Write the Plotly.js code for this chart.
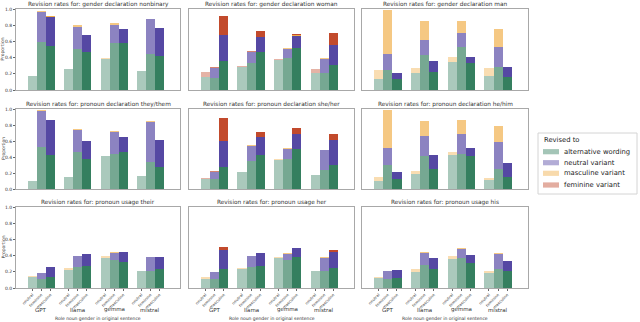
<!DOCTYPE html>
<html>
<head>
<meta charset="utf-8">
<script src="https://cdn.plot.ly/plotly-3.0.1.min.js"></script>
<style>
  html, body { margin: 0; padding: 0; background: #fff; }
  #chart { width: 640px; height: 322px; }
</style>
</head>
<body>
<div id="chart"></div>
<script>
'use strict'

var models = ['GPT', 'llama', 'gemma', 'mistral'];
var genders = ['neutral', 'feminine', 'masculine'];
var titles = [
  'Revision rates for: gender declaration nonbinary',
  'Revision rates for: gender declaration woman',
  'Revision rates for: gender declaration man',
  'Revision rates for: pronoun declaration they/them',
  'Revision rates for: pronoun declaration she/her',
  'Revision rates for: pronoun declaration he/him',
  'Revision rates for: pronoun usage their',
  'Revision rates for: pronoun usage her',
  'Revision rates for: pronoun usage his'
];
var seriesNames = ['alternative wording', 'neutral variant', 'masculine variant', 'feminine variant'];

// one row per panel, 12 bars: GPT(n,f,m) llama(n,f,m) gemma(n,f,m) mistral(n,f,m)
var alternative = [
  [0.17,0.60,0.545, 0.256,0.51,0.475, 0.39,0.58,0.58, 0.24,0.44,0.425],
  [0.157,0.153,0.36, 0.29,0.33,0.475, 0.37,0.40,0.517, 0.215,0.215,0.31],
  [0.132,0.25,0.136, 0.21,0.434,0.223, 0.347,0.537,0.33, 0.178,0.29,0.16],
  [0.104,0.525,0.425, 0.146,0.458,0.375, 0.408,0.44,0.458, 0.167,0.333,0.27],
  [0.13,0.13,0.275, 0.208,0.346,0.42, 0.367,0.38,0.5, 0.17,0.233,0.304],
  [0.104,0.296,0.13, 0.19,0.417,0.254, 0.43,0.44,0.417, 0.117,0.254,0.15],
  [0.13,0.115,0.136, 0.218,0.26,0.27, 0.37,0.35,0.317, 0.206,0.214,0.23],
  [0.115,0.115,0.23, 0.24,0.263,0.27, 0.374,0.34,0.383, 0.214,0.21,0.243],
  [0.123,0.11,0.123, 0.198,0.284,0.23, 0.358,0.37,0.313, 0.185,0.24,0.21]
];
var neutralVar = [
  [0,0.37,0.365, 0,0.275,0.205, 0,0.23,0.17, 0,0.435,0.34],
  [0,0.125,0.32, 0,0.145,0.185, 0,0.11,0.153, 0,0.175,0.248],
  [0,0.19,0.079, 0,0.186,0.137, 0,0.173,0.075, 0,0.24,0.125],
  [0,0.445,0.433, 0,0.282,0.229, 0,0.27,0.188, 0,0.507,0.347],
  [0,0.087,0.321, 0,0.194,0.226, 0,0.124,0.19, 0,0.25,0.313],
  [0,0.217,0.08, 0,0.243,0.171, 0,0.25,0.096, 0,0.336,0.175],
  [0,0.075,0.127, 0,0.13,0.15, 0,0.086,0.123, 0,0.169,0.153],
  [0,0.083,0.235, 0,0.127,0.166, 0,0.08,0.117, 0,0.164,0.197],
  [0,0.096,0.103, 0,0.152,0.14, 0,0.116,0.091, 0,0.175,0.123]
];
var masculineVar = [
  [0,0.01,0.005, 0,0.02,0, 0.01,0.025,0, 0,0.01,0],
  [0,0,0, 0,0,0, 0,0.005,0.015, 0,0.005,0],
  [0.118,0.55,0, 0.06,0.235,0, 0.063,0.15,0, 0.092,0.22,0],
  [0,0.013,0, 0,0.01,0, 0,0.01,0, 0,0.01,0],
  [0,0,0, 0.005,0.01,0, 0.008,0.013,0, 0.01,0.007,0],
  [0.05,0.477,0, 0.04,0.194,0, 0.037,0.177,0, 0.016,0.193,0],
  [0.014,0,0, 0.029,0.01,0, 0.03,0.014,0, 0.008,0.004,0],
  [0.015,0,0, 0.007,0.01,0, 0.013,0.01,0, 0,0.006,0],
  [0.017,0,0, 0.032,0.008,0, 0.032,0.008,0, 0.021,0.021,0]
];
var feminineVar = [
  [0,0,0, 0,0,0, 0,0,0, 0,0,0],
  [0.066,0.005,0.237, 0.01,0.005,0.07, 0.02,0.005,0.015, 0.045,0.005,0.152],
  [0,0,0, 0,0,0, 0,0,0, 0,0,0],
  [0,0,0, 0,0,0, 0,0,0, 0,0,0],
  [0.01,0.01,0.291, 0.004,0,0.067, 0.005,0,0.077, 0,0,0.073],
  [0,0,0, 0,0,0, 0,0,0, 0,0,0],
  [0,0,0, 0,0,0, 0,0,0, 0,0,0],
  [0,0,0.041, 0,0,0, 0,0,0, 0,0,0.025],
  [0,0,0, 0,0,0, 0,0,0, 0,0,0]
];

var colors = ['#357f5f', '#5548a3', '#f0ae48', '#c24a2c'];
var barAlpha = [0.42, 0.68, 1.0];
var W = 640, H = 322;

function px2x(p) { return p / W; }
function px2y(p) { return (H - p) / H; }

var colDom = [[16, 180], [189, 354], [362, 528]];
var rowDom = [[9.3, 90], [109, 189], [207, 288]];

var pos = [], ticktext = [], opac = [];
for (var g = 0; g < models.length; g++) {
  for (var k = 0; k < genders.length; k++) {
    pos.push(g * 4 + k);
    ticktext.push(genders[k]);
    opac.push(barAlpha[k]);
  }
}

var data = [];
var layout = {
  width: W, height: H,
  margin: {l: 0, r: 0, t: 0, b: 0},
  paper_bgcolor: '#fff', plot_bgcolor: '#fff',
  barmode: 'stack', bargap: 0,
  font: {family: 'DejaVu Sans', color: '#333', size: 5},
  showlegend: false,
  annotations: [],
  shapes: []
};

var segs = [alternative, neutralVar, masculineVar, feminineVar];
for (var p = 0; p < 9; p++) {
  var r = Math.floor(p / 3), c = p % 3, n = p + 1;
  var xs = n == 1 ? 'x' : 'x' + n, ys = n == 1 ? 'y' : 'y' + n;
  for (var s = 0; s < segs.length; s++) {
    data.push({
      type: 'bar', x: pos, y: segs[s][p], width: 1,
      xaxis: xs, yaxis: ys, name: seriesNames[s],
      marker: {color: colors[s], opacity: opac, line: {width: 0}},
      hoverinfo: 'skip'
    });
  }
  var xa = {
    domain: [px2x(colDom[c][0]), px2x(colDom[c][1])],
    range: [-1.8, 16.25], anchor: ys,
    showgrid: false, zeroline: false,
    showline: true, mirror: true, linecolor: '#a8a8a8', linewidth: 1,
    tickmode: 'array', tickvals: pos, ticktext: ticktext,
    showticklabels: r == 2, ticks: r == 2 ? 'outside' : '', ticklen: 2, tickcolor: '#666',
    tickangle: -45, tickfont: {size: 3.9, color: '#333'}
  };
  var ya = {
    domain: [px2y(rowDom[r][1]), px2y(rowDom[r][0])],
    range: [0, 1], anchor: xs,
    showgrid: false, zeroline: false,
    showline: true, mirror: true, linecolor: '#a8a8a8', linewidth: 1,
    tickvals: [0, 0.2, 0.4, 0.6, 0.8, 1.0],
    ticktext: ['0.0', '0.2', '0.4', '0.6', '0.8', '1.0'],
    showticklabels: c == 0, ticks: c == 0 ? 'outside' : '', ticklen: 2, tickcolor: '#666',
    tickfont: {size: 4.5, color: '#333'}
  };
  layout[n == 1 ? 'xaxis' : 'xaxis' + n] = xa;
  layout[n == 1 ? 'yaxis' : 'yaxis' + n] = ya;

  // panel title
  layout.annotations.push({
    text: titles[p], xref: 'paper', yref: 'paper',
    x: (xa.domain[0] + xa.domain[1]) / 2, y: px2y(rowDom[r][0] - 5),
    xanchor: 'center', yanchor: 'middle', showarrow: false,
    font: {size: 5.8, color: '#333'}
  });
  if (c == 0) {
    layout.annotations.push({
      text: 'Proportion', xref: 'paper', yref: 'paper', textangle: -90,
      x: px2x(3), y: (ya.domain[0] + ya.domain[1]) / 2,
      xanchor: 'center', yanchor: 'middle', showarrow: false,
      font: {size: 4.5, color: '#333'}
    });
  }
  if (r == 2) {
    for (var gg = 0; gg < models.length; gg++) {
      layout.annotations.push({
        text: models[gg], xref: xs, yref: 'paper',
        x: gg * 4 + 1, y: px2y(309.5), xanchor: 'center', yanchor: 'middle',
        showarrow: false, font: {size: 5.5, color: '#333'}
      });
    }
    layout.annotations.push({
      text: 'Role noun gender in original sentence', xref: 'paper', yref: 'paper',
      x: (xa.domain[0] + xa.domain[1]) / 2, y: px2y(318.5),
      xanchor: 'center', yanchor: 'middle', showarrow: false,
      font: {size: 4.5, color: '#333'}
    });
  }
}

// legend box drawn by hand to keep it compact
var legRows = [151.7, 162.7, 173.3, 185];
layout.shapes.push({
  type: 'rect', xref: 'paper', yref: 'paper',
  x0: px2x(538), x1: px2x(637), y0: px2y(194), y1: px2y(133),
  line: {color: '#d4d4d4', width: 1}, fillcolor: '#fff'
});
layout.annotations.push({
  text: 'Revised to', xref: 'paper', yref: 'paper',
  x: px2x(542), y: px2y(139.5), xanchor: 'left', yanchor: 'middle',
  showarrow: false, font: {size: 6.8, color: '#222'}
});
for (var s2 = 0; s2 < seriesNames.length; s2++) {
  layout.shapes.push({
    type: 'rect', xref: 'paper', yref: 'paper',
    x0: px2x(543), x1: px2x(559), y0: px2y(legRows[s2] + 2.6), y1: px2y(legRows[s2] - 2.6),
    line: {width: 0}, fillcolor: colors[s2], opacity: 0.45
  });
  layout.annotations.push({
    text: seriesNames[s2], xref: 'paper', yref: 'paper',
    x: px2x(562), y: px2y(legRows[s2]), xanchor: 'left', yanchor: 'middle',
    showarrow: false, font: {size: 6.8, color: '#222'}
  });
}

Plotly.newPlot('chart', data, layout, {displayModeBar: false, staticPlot: true});
</script>
</body>
</html>
